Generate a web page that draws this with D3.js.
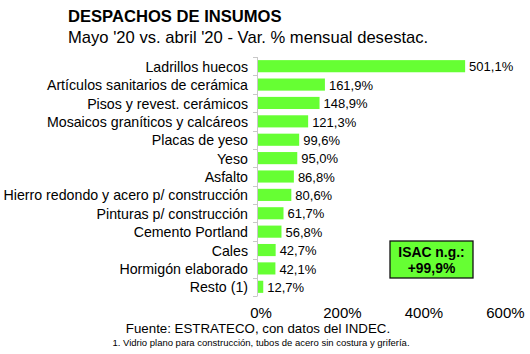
<!DOCTYPE html>
<html>
<head>
<meta charset="utf-8">
<script src="https://cdn.jsdelivr.net/npm/d3@7"></script>
<style>
  body { margin: 0; background: #fff; }
  text { font-family: "Liberation Sans", Arial, sans-serif; fill: #000; }
</style>
</head>
<body>
<svg id="chart" width="530" height="354"></svg>
<script>
const categories = [
  'Ladrillos huecos',
  'Artículos sanitarios de cerámica',
  'Pisos y revest. cerámicos',
  'Mosaicos graníticos y calcáreos',
  'Placas de yeso',
  'Yeso',
  'Asfalto',
  'Hierro redondo y acero p/ construcción',
  'Pinturas p/ construcción',
  'Cemento Portland',
  'Cales',
  'Hormigón elaborado',
  'Resto (1)'
];
const values = [501.1, 161.9, 148.9, 121.3, 99.6, 95.0, 86.8, 80.6, 61.7, 56.8, 42.7, 42.1, 12.7];
const xTicks = [0, 200, 400, 600];

const svg = d3.select('#chart');
const GREEN = '#66ff33';

// ---- Scales ----
const x = d3.scaleLinear().domain([0, 600]).range([258, 506]);
const y = d3.scaleBand().domain(categories).range([57, 296]).paddingInner(0.34).paddingOuter(0.17);

const fmt = v => v.toFixed(1).replace('.', ',') + '%';

// ---- Titles ----
svg.append('text').attr('x', 68).attr('y', 22)
  .style('font-size', '16.6px').style('font-weight', 'bold')
  .text('DESPACHOS DE INSUMOS');
svg.append('text').attr('x', 68).attr('y', 43)
  .style('font-size', '16.6px')
  .text("Mayo '20 vs. abril '20 - Var. % mensual desestac.");

// ---- Left axis line with ticks between bands ----
const axis = svg.append('g').attr('stroke', '#c8c8c8').attr('stroke-width', 1);
axis.append('line').attr('x1', 257.5).attr('x2', 257.5).attr('y1', 57).attr('y2', 296);
d3.range(categories.length + 1).forEach(i => {
  const yy = Math.round(57 + i * (239 / categories.length)) + 0.5;
  axis.append('line').attr('x1', 253).attr('x2', 257.5).attr('y1', yy).attr('y2', yy);
});

// ---- Bars ----
svg.append('g').selectAll('rect')
  .data(values)
  .join('rect')
  .attr('x', x(0))
  .attr('y', (d, i) => y(categories[i]))
  .attr('width', d => x(d) - x(0))
  .attr('height', y.bandwidth())
  .attr('fill', GREEN);

// value labels
svg.append('g').selectAll('text')
  .data(values)
  .join('text')
  .attr('x', d => x(d) + 4)
  .attr('y', (d, i) => y(categories[i]) + y.bandwidth() / 2 + 0.5)
  .attr('dy', '0.36em')
  .style('font-size', '13px')
  .text(fmt);

// category labels
svg.append('g').selectAll('text')
  .data(categories)
  .join('text')
  .attr('x', 248)
  .attr('y', d => y(d) + y.bandwidth() / 2 + 0.5)
  .attr('dy', '0.36em')
  .attr('text-anchor', 'end')
  .style('font-size', '14.2px')
  .text(d => d);

// ---- X tick labels ----
svg.append('g').selectAll('text')
  .data(xTicks)
  .join('text')
  .attr('x', d => x(d) + 3 - d * 0.006)
  .attr('y', 318)
  .attr('text-anchor', 'middle')
  .style('font-size', '15px')
  .text(d => d + '%');

// ---- ISAC box ----
const box = svg.append('g');
box.append('rect').attr('x', 390).attr('y', 241).attr('width', 83).attr('height', 37)
  .attr('fill', GREEN).attr('stroke', '#111').attr('stroke-width', 1.3);
box.append('text').attr('x', 431.5).attr('y', 257).attr('text-anchor', 'middle')
  .style('font-size', '13.9px').style('font-weight', 'bold').text('ISAC n.g.:');
box.append('text').attr('x', 431.5).attr('y', 273).attr('text-anchor', 'middle')
  .style('font-size', '13.9px').style('font-weight', 'bold').text('+99,9%');

// ---- Source / footnote ----
svg.append('text').attr('x', 258).attr('y', 333).attr('text-anchor', 'middle')
  .style('font-size', '13.3px').text('Fuente: ESTRATECO, con datos del INDEC.');
svg.append('text').attr('x', 261).attr('y', 346).attr('text-anchor', 'middle')
  .style('font-size', '9.5px').text('1. Vidrio plano para construcción, tubos de acero sin costura y grifería.');
</script>
</body>
</html>
